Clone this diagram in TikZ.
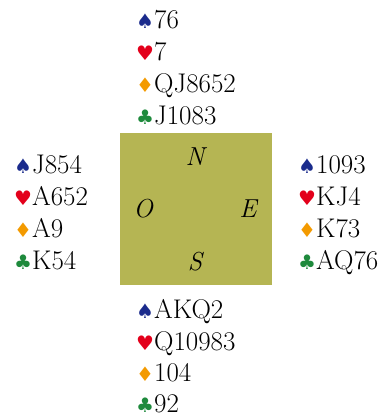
\documentclass[tikz,border=0pt]{standalone}
\usepackage{fontspec}
\newfontfamily\suitfont{DejaVu Sans}
\definecolor{spadec}{HTML}{1A2B8C}
\definecolor{heartc}{HTML}{E3001B}
\definecolor{diamc}{HTML}{F39A00}
\definecolor{clubc}{HTML}{1E8A3C}
\definecolor{boxc}{HTML}{B5B553}
\newcommand{\Sp}{{\suitfont\fontsize{20}{20}\selectfont\color{spadec}♠}}
\newcommand{\He}{{\suitfont\fontsize{20}{20}\selectfont\color{heartc}♥}}
\newcommand{\Di}{{\suitfont\fontsize{20}{20}\selectfont\color{diamc}♦}}
\newcommand{\Cl}{{\suitfont\fontsize{20}{20}\selectfont\color{clubc}♣}}
\begin{document}
\begin{tikzpicture}[x=1pt,y=-1pt,
  cardline/.style={anchor=base west,inner sep=0pt,font=\fontsize{27}{32}\selectfont},
  dir/.style={anchor=base,inner sep=0pt,font=\fontsize{26}{32}\selectfont\itshape},
  table/.style={fill=boxc,draw=none}]
\useasboundingbox (0,0) rectangle (385,416);
\fill[table] (120,133) rectangle (272,285);
\node[dir] (N) at (195,165) {N};
\node[dir] (O) at (143,217) {O};
\node[dir] (E) at (248,217) {E};
\node[dir] (S) at (195,270) {S};
% North
\node[cardline] (n1) at (136,28) {\Sp76};
\node[cardline] (n2) at (136,60) {\He7};
\node[cardline] (n3) at (136,92) {\Di QJ8652};
\node[cardline] (n4) at (136,124) {\Cl J1083};
% West
\node[cardline] (w1) at (14,173) {\Sp J854};
\node[cardline] (w2) at (14,205) {\He A652};
\node[cardline] (w3) at (14,237) {\Di A9};
\node[cardline] (w4) at (14,269) {\Cl K54};
% East
\node[cardline] (e1) at (298,173) {\Sp1093};
\node[cardline] (e2) at (298,205) {\He KJ4};
\node[cardline] (e3) at (298,237) {\Di K73};
\node[cardline] (e4) at (298,269) {\Cl AQ76};
% South
\node[cardline] (s1) at (136,318) {\Sp AKQ2};
\node[cardline] (s2) at (136,350) {\He Q10983};
\node[cardline] (s3) at (136,381) {\Di104};
\node[cardline] (s4) at (136,412) {\Cl92};
\end{tikzpicture}
\end{document}
